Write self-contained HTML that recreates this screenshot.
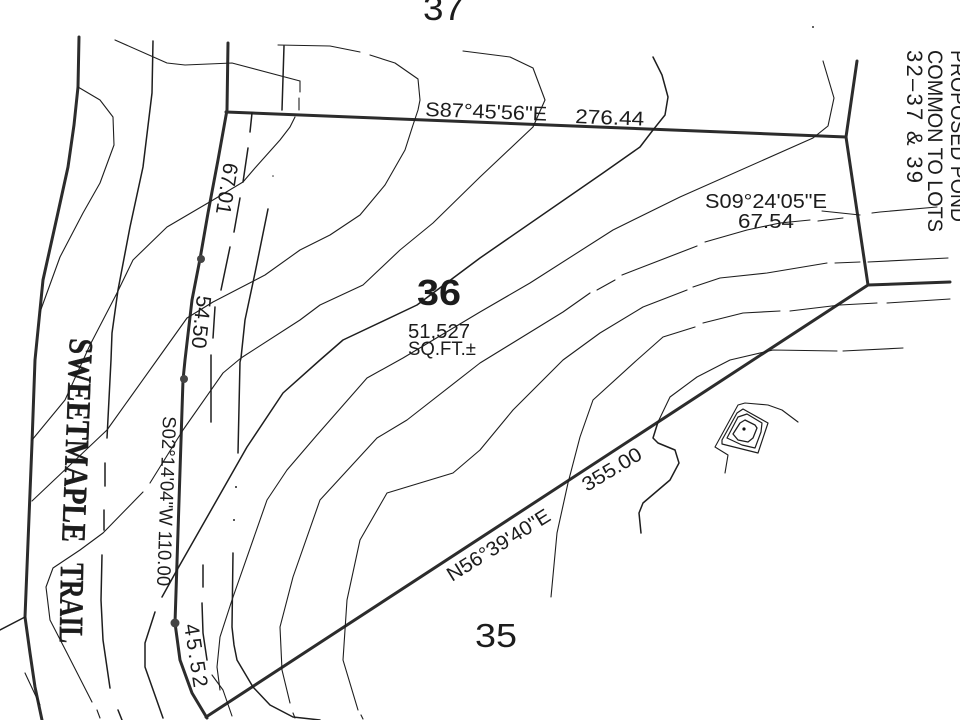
<!DOCTYPE html>
<html><head><meta charset="utf-8"><title>Lot 36 plat</title>
<style>
html,body{margin:0;padding:0;background:#fff}
svg{display:block}
text{font-family:"Liberation Sans",sans-serif;fill:#1c1c1c}
.t{fill:none;stroke:#1e1e1e;stroke-width:1.1;stroke-linejoin:round;stroke-linecap:round}
.m{fill:none;stroke:#1e1e1e;stroke-width:1.5;stroke-linejoin:round;stroke-linecap:round}
.k{fill:none;stroke:#2c2c2c;stroke-width:3;stroke-linejoin:round;stroke-linecap:round}
.s{font-family:"Liberation Serif",serif;font-weight:700;stroke:#1c1c1c;stroke-width:.4}
</style></head><body>
<svg width="960" height="720" viewBox="0 0 960 720" xmlns="http://www.w3.org/2000/svg">
<rect width="960" height="720" fill="#fff"/>

<!-- road edges -->
<polyline class="k" points="79,37 78,87 74,125 68,167 57,217 43,280 35,360 32,443 25,617 30,653 35,687 42,720"/>
<line class="m" x1="0" y1="630" x2="25" y2="617"/>
<line class="t" x1="25" y1="673" x2="40" y2="705"/>
<polyline class="m" points="153,41 152,93 143,167 130,227 118,290 112,333 111,360 107,438"/>
<path class="m" d="M105,463V486M104,510V530"/>
<polyline class="m" points="102,555 101,600 103,640 110,688"/>
<line class="m" x1="118" y1="710" x2="122" y2="720"/>
<polyline class="k" points="228,43 227,110 218,160 208,213 200,259 192,300 185,360 183,380 175,623 180,660 192,693 207,718"/>

<!-- lot boundary -->
<polyline class="k" points="226,112 846,137 868,285 206,717"/>
<polyline class="k" points="857,61 846,137"/>
<polyline class="k" points="868,285 950,282"/>

<!-- easement / dashed lines -->
<line class="m" x1="284" y1="46" x2="282" y2="110"/>
<path class="m" d="M252,113L250,132M248,148L243,182M240,198L234,232M230,247L221,290M215,307L213,338M211,355V422M203,565V587"/>
<polyline class="m" points="202,603 203,633 207,660"/>
<polyline class="t" points="212,675 223,690 232,716"/>
<polyline class="m" points="268,209 255,273 245,320 241,358 240,362 238,453"/>
<polyline class="m" points="233,553 232,627 234,645 237,660 253,687 270,705 293,717 320,720"/>

<!-- contours -->
<polyline class="t" points="115,40 167,63 185,65 232,63 300,81"/>
<path class="t" d="M300,81V92M299,98V110"/>
<polyline class="t" points="295,117 290,127 280,140 255,168 243,182 213,200 167,227 133,260 117,293 90,345 65,400 32,440"/>
<polyline class="t" points="78,87 100,100 113,117 114,145 100,183 83,213 60,257 40,312"/>
<polyline class="t" points="278,45 330,46 360,52"/>
<polyline class="t" points="370,55 395,63 418,79 420,100 418,110 413,125 405,150 385,185 360,215 330,235 300,250 265,275 240,288 213,302 187,318 157,360 107,430 32,501"/>
<polyline class="t" points="463,51 510,57 533,68 545,100 533,127 480,177 433,223 400,250 363,285 320,305 300,320 241,358 223,373 183,430 150,483"/>
<polyline class="t" points="143,492 103,533 80,550 53,568 46,587 50,620 67,653 92,702"/>
<line class="t" x1="97" y1="710" x2="100" y2="718"/>
<polyline class="m" points="653,57 662,75 668,97 665,115 653,130 640,147 603,173 480,258 417,305 343,340 320,360 283,393 247,447 177,570 162,597"/>
<polyline class="m" points="155,612 145,643 145,667 163,718"/>
<polyline class="t" points="823,61 834,98 828,126 813,138 680,197 613,230 530,283 480,312 403,358 367,378 317,435 287,470 267,500 232,600 220,637 217,667 220,690"/>
<polyline class="t" points="937,207 880,212 872,213"/>
<line class="t" x1="860" y1="215" x2="822" y2="211"/>
<line class="t" x1="843" y1="218" x2="818" y2="221"/>
<polyline class="t" points="810,220 780,223 747,230 705,242"/>
<polyline class="t" points="697,246 653,263 622,275"/>
<line class="t" x1="615" y1="280" x2="597" y2="290"/>
<polyline class="t" points="590,293 563,312 480,363 407,420 377,438 320,500 293,577 280,627 282,670 290,703"/>
<line class="t" x1="293" y1="713" x2="295" y2="718"/>
<line class="t" x1="948" y1="258" x2="868" y2="262"/>
<line class="t" x1="860" y1="262" x2="835" y2="263"/>
<polyline class="t" points="827,263 767,273 720,278 693,287"/>
<polyline class="t" points="687,290 643,307 600,333 563,360 513,410 480,450 453,473 387,493 360,540 347,600 343,660 358,710"/>
<line class="t" x1="361" y1="715" x2="363" y2="719"/>
<line class="t" x1="950" y1="299" x2="887" y2="303"/>
<polyline class="t" points="877,303 840,305 790,311"/>
<polyline class="t" points="780,311 743,313 703,323"/>
<polyline class="t" points="695,327 663,337 637,360 593,400 580,437 568,483 557,533 551,597"/>
<line class="t" x1="903" y1="348" x2="843" y2="351"/>
<polyline class="t" points="837,351 773,350 730,360 697,377 670,397 658,422"/>
<polyline class="m" points="658,422 653,438 658,443 675,450 679,463 670,480 643,503 639,513 641,533"/>

<!-- pond -->
<polyline class="t" points="798,422 782,410 768,405 745,403 738,405 715,447 728,455 725,473"/>
<polygon class="m" points="722,440 737,413 743,409 768,423 758,453 722,444" style="stroke-width:1.2"/>
<polygon class="m" points="727,438 738,417 747,414 762,423 761,432 755,448 742,445" style="stroke-width:1.2"/>
<polygon class="m" points="733,434 740,423 745,420 755,425 757,428 753,438 748,442 738,440" style="stroke-width:1.3"/>
<circle cx="744" cy="429" r="1.6" fill="#111"/>

<!-- specks -->
<circle cx="813" cy="27" r="1" fill="#333"/>
<circle cx="273" cy="176" r=".8" fill="#333"/>
<circle cx="236" cy="487" r="1" fill="#222"/>
<circle cx="234" cy="520" r="1" fill="#222"/>

<!-- monuments -->
<circle cx="201" cy="259" r="4" fill="#444"/>
<circle cx="184" cy="379" r="4" fill="#444"/>
<circle cx="175" cy="623" r="4.5" fill="#444"/>

<!-- labels -->
<text x="423" y="20" font-size="34" textLength="41" lengthAdjust="spacingAndGlyphs">37</text>
<text x="475" y="647" font-size="33" textLength="42" lengthAdjust="spacingAndGlyphs">35</text>
<text x="417" y="305" font-size="36" font-weight="700" textLength="44" lengthAdjust="spacingAndGlyphs">36</text>
<text x="408" y="338" font-size="20" textLength="62" lengthAdjust="spacingAndGlyphs">51,527</text>
<text x="408" y="355" font-size="19" textLength="68" lengthAdjust="spacingAndGlyphs">SQ.FT.±</text>
<text transform="translate(425,116) rotate(2.2)" font-size="20" textLength="122" lengthAdjust="spacingAndGlyphs">S87°45'56"E</text>
<text transform="translate(575,123) rotate(2.2)" font-size="20" textLength="69" lengthAdjust="spacingAndGlyphs">276.44</text>
<text x="705" y="208" font-size="20" textLength="122" lengthAdjust="spacingAndGlyphs">S09°24'05"E</text>
<text x="738" y="228" font-size="20" textLength="56" lengthAdjust="spacingAndGlyphs">67.54</text>
<text transform="translate(224,162) rotate(99)" font-size="21" textLength="52" lengthAdjust="spacingAndGlyphs">67.01</text>
<text transform="translate(197,295) rotate(96)" font-size="21" textLength="53" lengthAdjust="spacingAndGlyphs">54.50</text>
<text transform="translate(163,416) rotate(92)" font-size="19" textLength="170" lengthAdjust="spacingAndGlyphs">S02°14'04"W  110.00</text>
<text transform="translate(184,625) rotate(81)" font-size="21" textLength="64" lengthAdjust="spacing">45.52</text>
<text transform="translate(452,582) rotate(-32)" font-size="20" textLength="118" lengthAdjust="spacingAndGlyphs">N56°39'40"E</text>
<text transform="translate(587,492) rotate(-31)" font-size="20" textLength="66" lengthAdjust="spacingAndGlyphs">355.00</text>
<text transform="translate(951,50) rotate(90)" font-size="21" textLength="172" lengthAdjust="spacingAndGlyphs">PROPOSED POND</text>
<text transform="translate(928,50) rotate(90)" font-size="21" textLength="182" lengthAdjust="spacingAndGlyphs">COMMON TO LOTS</text>
<text transform="translate(907,50) rotate(90)" font-size="22" textLength="133" lengthAdjust="spacing">32–37 &amp; 39</text>
<text class="s" transform="translate(70,338) rotate(92.2)" font-size="34" textLength="204" lengthAdjust="spacingAndGlyphs">SWEETMAPLE</text>
<text class="s" transform="translate(61,563) rotate(91)" font-size="34" textLength="80" lengthAdjust="spacingAndGlyphs">TRAIL</text>
</svg>
</body></html>
